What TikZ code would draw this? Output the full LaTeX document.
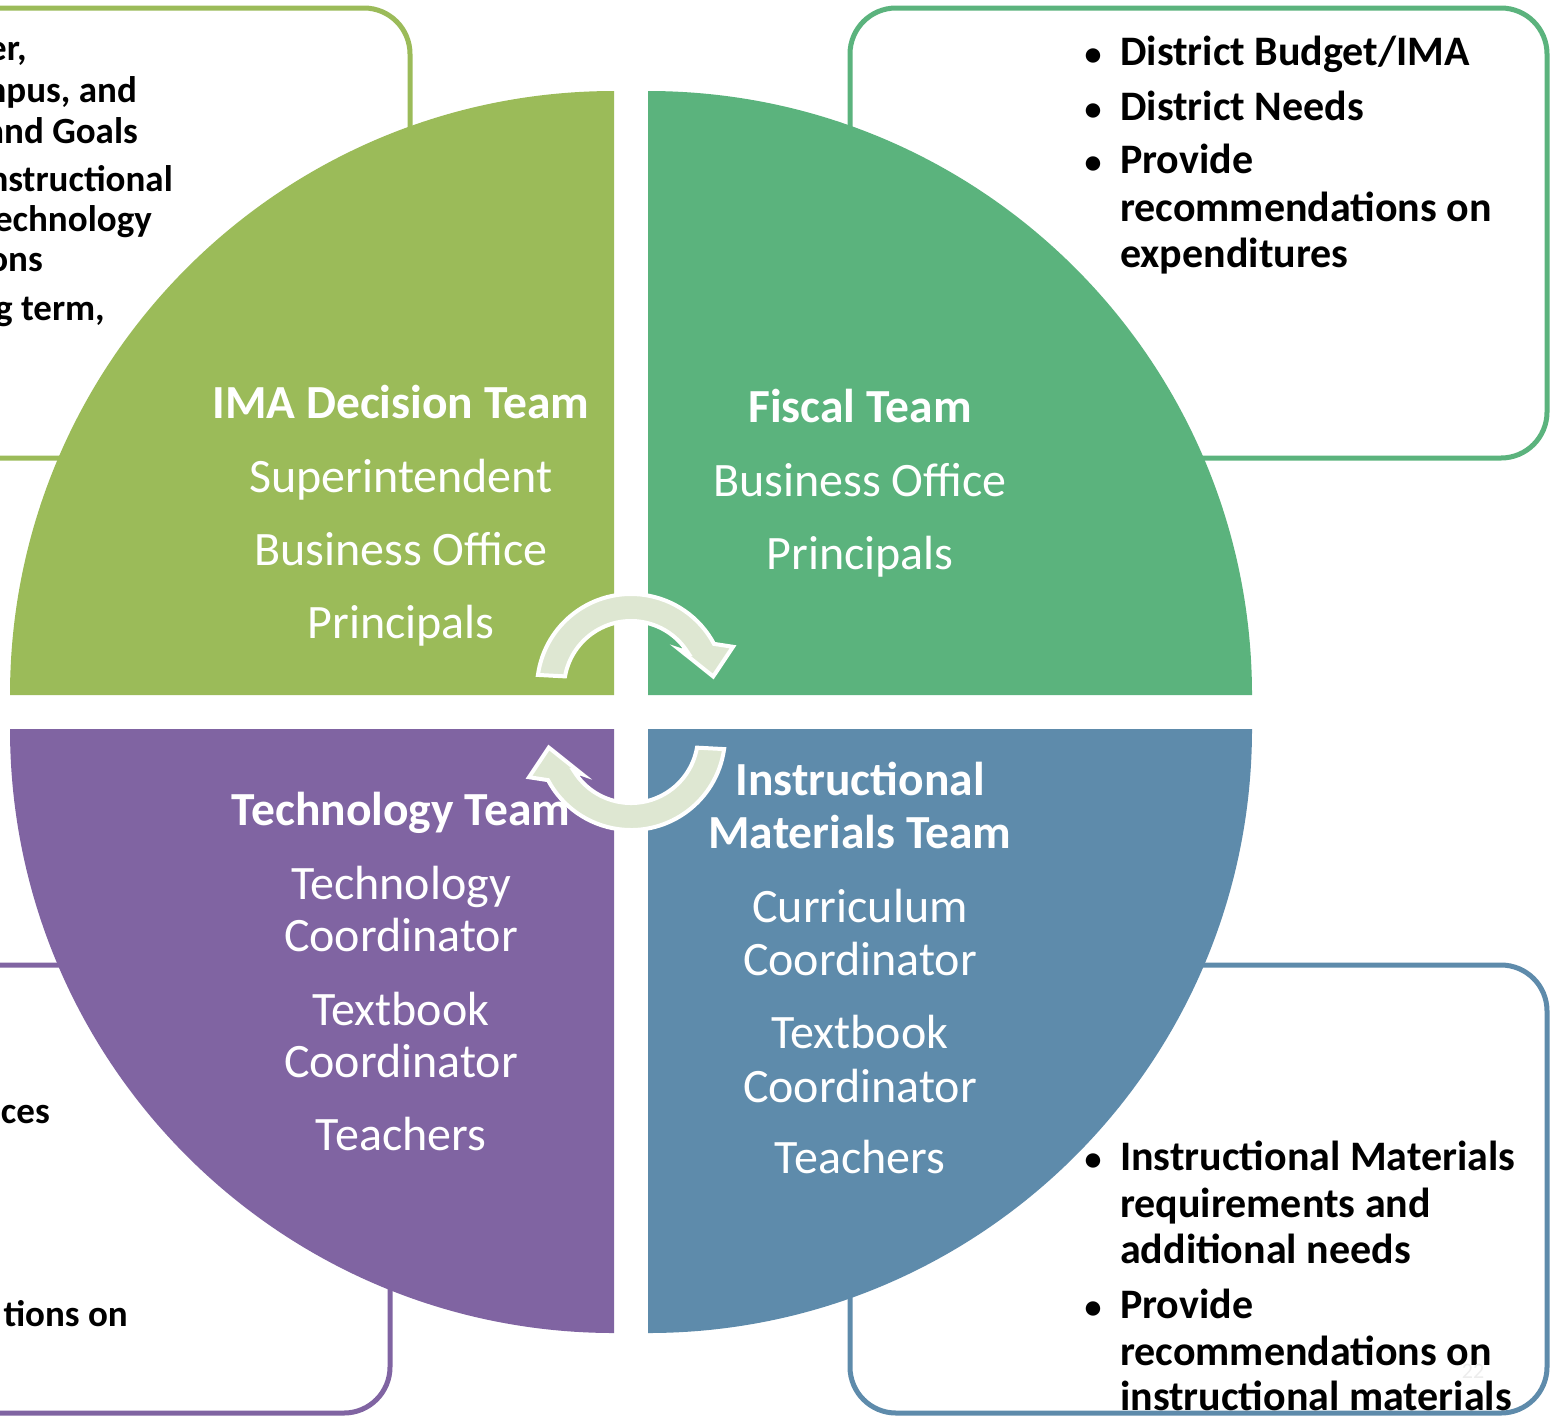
\documentclass[tikz,border=0pt]{standalone}
\usepackage{fontspec}
\setmainfont{Carlito}
\usepackage{tikz}
\usetikzlibrary{calc}
\definecolor{imaGreen}{HTML}{9BBB59}
\definecolor{fiscalGreen}{HTML}{5BB37D}
\definecolor{matBlue}{HTML}{5E8BAB}
\definecolor{techPurple}{HTML}{8064A2}
\definecolor{cycleGreen}{HTML}{DEE7D2}

\begin{document}
\begin{tikzpicture}[x=1pt,y=-1pt]
\tikzset{BoxFrame/.style={
  line width=5pt,
  rounded corners=46pt,
  fill=white,
}}
\tikzset{TeamTitle/.style={
  text=white,
  anchor=base,
  inner sep=0pt,
  font=\fontsize{47.5}{52}\selectfont\bfseries,
}}
\tikzset{TeamMember/.style={
  text=white,
  anchor=base,
  inner sep=0pt,
  font=\fontsize{48}{52}\selectfont,
}}
\tikzset{BoxText/.style={
  text=black,
  anchor=base west,
  inner sep=0pt,
  font=\fontsize{42}{47}\selectfont\bfseries,
}}
\tikzset{CutText/.style={BoxText, anchor=base east, font=\fontsize{37}{41}\selectfont\bfseries}}
\tikzset{BulletMark/.style={BoxText, anchor=base, font=\fontsize{34}{40}\selectfont\bfseries}}
\tikzset{CycleArrow/.style={
  fill=cycleGreen,
  draw=white,
  line width=4pt,
  line join=miter,
}}

\useasboundingbox (0,0) rectangle (1557,1417);

% frames behind the circle
\draw[BoxFrame, draw=imaGreen]    (-400,8) rectangle (410,458);
\draw[BoxFrame, draw=fiscalGreen] (850,8) rectangle (1547,458);
\draw[BoxFrame, draw=techPurple]  (-400,965) rectangle (390,1413);
\draw[BoxFrame, draw=matBlue]     (850,965) rectangle (1547,1413);

% the four quarters
\fill[imaGreen]    (614,695) -- ++(180:604) arc[start angle=180, end angle=270, radius=604] -- cycle;
\fill[fiscalGreen] (648,695) -- ++(270:604) arc[start angle=270, end angle=360, radius=604] -- cycle;
\fill[matBlue]     (648,729) -- ++(0:604)   arc[start angle=0,   end angle=90,  radius=604] -- cycle;
\fill[techPurple]  (614,729) -- ++(90:604)  arc[start angle=90,  end angle=180, radius=604] -- cycle;

% cycle arrows
\coordinate (upc) at (631,688);
\coordinate (loc) at (631,736);
\draw[CycleArrow] ($(upc)+(188:94)$) arc[start angle=188, end angle=332, radius=94]
  -- ($(upc)+(338:110)$) -- ($(upc)+(352:83)$) -- ($(upc)+(322:62)$)
  -- ($(upc)+(328:67)$) arc[start angle=328, end angle=190, radius=67] -- cycle;
\draw[CycleArrow] ($(loc)+(8:94)$) arc[start angle=8, end angle=152, radius=94]
  -- ($(loc)+(158:110)$) -- ($(loc)+(172:83)$) -- ($(loc)+(142:62)$)
  -- ($(loc)+(148:67)$) arc[start angle=148, end angle=10, radius=67] -- cycle;

% team names and members
\node[TeamTitle] (ima) at (401,418) {IMA Decision Team};
\foreach \y/\t [count=\i] in {492/Superintendent, 565/Business Office, 638/Principals}
  \node[TeamMember] (ima-\i) at (401,\y) {\t};

\node[TeamTitle] (fis) at (860,422) {Fiscal Team};
\foreach \y/\t [count=\i] in {496/Business Office, 569/Principals}
  \node[TeamMember] (fis-\i) at (860,\y) {\t};

\node[TeamTitle] (tec) at (401,825) {Technology Team};
\foreach \y/\t [count=\i] in {899/Technology, 951/Coordinator, 1025/Textbook, 1077/Coordinator, 1150/Teachers}
  \node[TeamMember] (tec-\i) at (401,\y) {\t};

\node[TeamTitle] (mat) at (860,795) {Instructional};
\node[TeamTitle] (mat-b) at (860,848) {Materials Team};
\foreach \y/\t [count=\i] in {922/Curriculum, 975/Coordinator, 1048/Textbook, 1102/Coordinator, 1173/Teachers}
  \node[TeamMember] (mat-\i) at (860,\y) {\t};

% texts in the frames
\foreach \y/\x/\t [count=\i] in {60/27/{er,}, 102/137/{npus, and}, 143/138/{and Goals},
    191/173/{nstructional}, 231/152/{echnology}, 271/43/{ons}, 320/105/{g term,}}
  \node[CutText] (imatxt-\i) at (\x,\y) {\t};

\foreach \y/\t [count=\i] in {65/{District Budget/IMA}, 120/{District Needs}, 173/{Provide},
    221/{recommendations on}, 267/{expenditures}}
  \node[BoxText] (fistxt-\i) at (1120,\y) {\t};
\foreach \y [count=\i] in {65,120,173}
  \node[BulletMark] (fisdot-\i) at (1093,\y) {\textbullet};

\foreach \y/\x/\t [count=\i] in {1123/50/{ces}, 1326/128/{tions on}}
  \node[CutText] (tectxt-\i) at (\x,\y) {\t};

\foreach \y/\t [count=\i] in {1170/{Instructional Materials}, 1217/{requirements and},
    1263/{additional needs}, 1318/{Provide}, 1365/{recommendations on}, 1410/{instructional materials}}
  \node[BoxText] (mattxt-\i) at (1120,\y) {\t};
\foreach \y [count=\i] in {1170,1318}
  \node[BulletMark] (matdot-\i) at (1093,\y) {\textbullet};

\node[text=black!7, anchor=base, inner sep=0pt, font=\fontsize{22}{26}\selectfont] (pagenr) at (1473,1378) {22};
\end{tikzpicture}
\end{document}
